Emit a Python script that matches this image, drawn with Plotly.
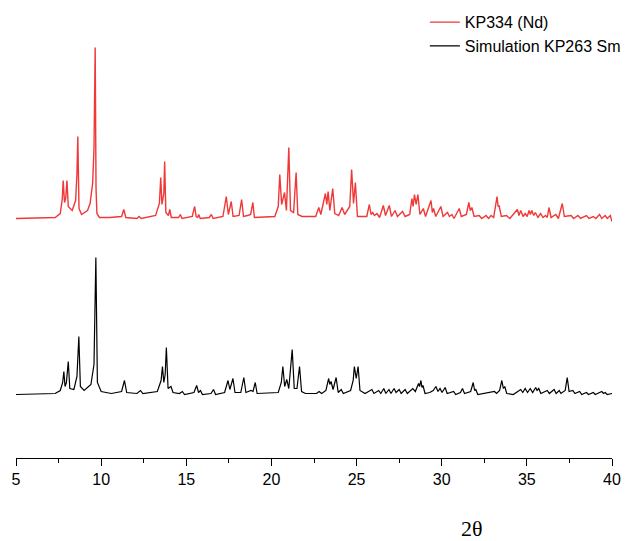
import plotly.graph_objects as go

# ---- Data (2theta in degrees, intensity in arbitrary units above each pattern's baseline) ----
RED_NAME = "KP334 (Nd)"
SIM_NAME = "Simulation KP263 Sm"

RED_2THETA = [
    5.0, 7.3, 7.6, 7.72, 7.77, 7.85, 7.92, 7.99, 8.07, 8.3, 8.5, 8.58, 8.63, 8.70, 8.85,
    9.2, 9.35, 9.5, 9.58, 9.65, 9.7, 9.75, 9.9, 10.5,
    11.2, 11.33, 11.45, 12.1, 12.23, 12.35,
    13.2, 13.42, 13.50, 13.57, 13.68, 13.73, 13.8, 13.95, 14.03, 14.12, 14.55, 14.65, 14.75,
    15.35, 15.49, 15.58, 15.67, 15.73, 15.82, 16.35, 16.47, 16.58,
    17.15, 17.35, 17.47, 17.64, 17.75, 18.1, 18.25, 18.36, 18.6, 18.78, 18.91, 19.0,
    20.2, 20.4, 20.49, 20.6, 20.77, 20.88, 21.02, 21.12, 21.3, 21.45, 21.55, 21.8,
    22.6, 22.78, 22.9, 23.17, 23.25, 23.33, 23.43, 23.6, 23.72, 23.95, 24.15, 24.3,
    24.6, 24.71, 24.82, 24.93, 25.05,
    25.6, 25.75, 25.85, 25.95, 26.05, 26.2, 26.35, 26.57, 26.7, 26.92, 27.05, 27.26, 27.4,
    27.7, 27.85, 28.12, 28.25, 28.32, 28.4, 28.5, 28.6, 28.72, 28.92, 29.05,
    29.37, 29.45, 29.52, 29.65, 29.95, 30.08, 30.34, 30.45, 30.6, 30.72,
    31.03, 31.15, 31.45, 31.59, 31.68, 31.77, 31.9, 32.2, 32.35, 32.6, 32.75, 32.9, 33.05,
    33.25, 33.31, 33.37, 33.5, 33.8, 34.0,
    34.44, 34.54, 34.64, 34.78, 34.9, 35.02, 35.13, 35.21, 35.29, 35.4, 35.5, 35.65,
    35.81, 35.95, 36.1, 36.2, 36.3, 36.42, 36.7, 36.85, 37.08, 37.2,
    37.6, 37.75, 38.0, 38.15, 38.5, 38.65, 38.9, 39.05, 39.27, 39.4, 39.6, 39.72, 39.9, 40.0,
]
RED_INT = [
    0, 1, 5, 20, 38, 16, 20, 38, 12, 8, 18, 45, 82, 10, 4,
    8, 15, 35, 70, 171, 30, 5, 1, 1,
    2, 9, 1, 0, 2, 0,
    3, 15, 41, 14, 25, 57, 6, 3, 9, 1, 1, 4, 0,
    2, 12, 2, 1, 4, 0, 1, 4, 0,
    2, 22, 4, 17, 2, 3, 19, 2, 3, 4, 16, 1,
    2, 12, 44, 14, 26, 8, 71, 8, 6, 46, 4, 2,
    2, 11, 4, 25, 14, 27, 8, 30, 5, 3, 11, 4,
    12, 49, 15, 36, 2,
    2, 14, 4, 6, 3, 5, 1, 13, 3, 13, 2, 8, 2,
    7, 2, 4, 20, 12, 24, 14, 24, 4, 10, 2,
    18, 6, 10, 2, 12, 2, 6, 2, 4, 0,
    10, 2, 4, 16, 8, 11, 2, 3, 0, 3, 0, 3, 1,
    22, 12, 13, 2, 3, 0,
    9, 3, 8, 2, 5, 2, 8, 4, 8, 3, 6, 1,
    5, 1, 3, 1, 11, 1, 4, 0, 15, 2,
    3, 0, 3, 0, 3, 0, 2, 0, 4, 0, 3, 0, 3, -3,
]

SIM_2THETA = [
    5.0, 7.3, 7.6, 7.74, 7.81, 7.88, 7.96, 8.07, 8.16, 8.4, 8.58, 8.69, 8.78, 9.0,
    9.4, 9.58, 9.69, 9.78, 10.0, 10.6,
    11.2, 11.37, 11.5, 12.1, 12.31, 12.45,
    13.3, 13.52, 13.6, 13.68, 13.76, 13.83, 13.93, 14.1, 14.22, 14.6, 14.77, 14.9,
    15.45, 15.61, 15.72, 15.83, 15.95, 16.45, 16.6, 16.72,
    17.25, 17.45, 17.56, 17.74, 17.86, 18.2, 18.38, 18.5, 18.8, 18.92, 19.05, 19.16,
    20.4, 20.58, 20.67, 20.78, 20.9, 21.02, 21.22, 21.34, 21.5, 21.65, 21.77, 22.0,
    22.65, 22.8, 22.95, 23.2, 23.36, 23.43, 23.5, 23.62, 23.8, 23.92, 24.1, 24.22,
    24.65, 24.8, 24.87, 24.98, 25.09, 25.2, 25.5,
    25.9, 26.02, 26.3, 26.42, 26.6, 26.72, 26.9, 27.02, 27.2, 27.32, 27.5, 27.62,
    27.85, 27.98, 28.3, 28.45, 28.64, 28.7, 28.78, 28.84, 28.9, 29.02,
    29.3, 29.5, 29.66, 29.78, 29.9, 30.02, 30.2, 30.32, 30.7, 30.82,
    31.1, 31.22, 31.34, 31.7, 31.85, 31.93, 32.0, 32.12, 32.5,
    33.1, 33.22, 33.4, 33.53, 33.62, 33.7, 33.82, 34.2,
    34.64, 34.76, 34.9, 35.04, 35.2, 35.34, 35.52, 35.6, 35.7, 35.82,
    36.2, 36.32, 36.6, 36.72, 36.9, 37.0, 37.25, 37.37, 37.48,
    37.7, 37.82, 38.1, 38.22, 38.5, 38.62, 38.9, 39.02, 39.4, 39.5, 39.6, 39.72, 40.0,
]
SIM_INT = [
    0, 1, 4, 12, 23, 8, 12, 33, 6, 5, 18, 58, 8, 4,
    10, 30, 137, 12, 3, 1,
    3, 14, 2, 1, 4, 1,
    3, 14, 28, 12, 20, 47, 6, 8, 2, 1, 3, 0,
    2, 9, 2, 4, 0, 1, 5, 0,
    2, 14, 5, 16, 2, 2, 17, 2, 4, 3, 12, 1,
    2, 12, 28, 8, 15, 6, 45, 6, 6, 28, 3, 1,
    1, 3, 1, 4, 16, 10, 13, 5, 17, 2, 5, 1,
    4, 14, 28, 16, 28, 4, 1,
    5, 1, 4, 1, 6, 1, 5, 1, 6, 2, 5, 1,
    5, 1, 6, 3, 11, 8, 14, 7, 9, 1,
    2, 4, 8, 3, 6, 2, 7, 1, 3, 0,
    2, 6, 1, 3, 12, 4, 5, 0, 1,
    3, 1, 4, 14, 6, 8, 1, 0,
    5, 2, 6, 2, 6, 2, 7, 4, 6, 1,
    4, 1, 5, 1, 4, 1, 4, 17, 3,
    4, 1, 3, 0, 2, 0, 2, 0, 3, 1, 2, 0, 1,
]

X_TICKS = [5, 10, 15, 20, 25, 30, 35, 40]
X_TITLE = "2θ"

# ---- Styling / layout ----
RED_OFFSET = 176  # vertical stacking offset of the measured pattern
RED_COLOR = "rgb(240,56,56)"

fig = go.Figure()
fig.add_trace(go.Scatter(
    x=RED_2THETA, y=[v + RED_OFFSET for v in RED_INT], mode="lines", name=RED_NAME,
    line=dict(color=RED_COLOR, width=1.4), hoverinfo="x+name",
))
fig.add_trace(go.Scatter(
    x=SIM_2THETA, y=SIM_INT, mode="lines", name=SIM_NAME,
    line=dict(color="black", width=1.2), hoverinfo="x+name",
))

fig.update_layout(
    width=627, height=541,
    margin=dict(l=16, r=15, t=30, b=83, autoexpand=False),
    paper_bgcolor="white", plot_bgcolor="white",
    font=dict(family="Liberation Sans, Arial, sans-serif", size=16, color="black"),
    showlegend=True,
    legend=dict(
        x=0.686, y=1.058, xanchor="left", yanchor="top",
        bgcolor="rgba(0,0,0,0)", font=dict(size=16), tracegroupgap=0,
    ),
    xaxis=dict(
        range=[5, 40], tickvals=X_TICKS, showline=True, linecolor="black", linewidth=1,
        ticks="outside", ticklen=7, tickwidth=1, tickcolor="black", automargin=False,
        minor=dict(dtick=2.5, ticks="outside", ticklen=4, tickwidth=1, tickcolor="black", showgrid=False),
        showgrid=False, zeroline=False, tickfont=dict(size=16),
    ),
    yaxis=dict(range=[-63.5, 364.5], visible=False, showgrid=False, zeroline=False,
               automargin=False),
    annotations=[dict(
        text=X_TITLE, x=0.765, y=-0.1636, xref="paper", yref="paper",
        showarrow=False, xanchor="center", yanchor="middle",
        font=dict(family="Liberation Serif, Times New Roman, serif", size=22, color="black"),
    )],
)

fig.write_html(
    "out.html",
    config={"displayModeBar": False},
    post_script="document.body.style.margin='0px';document.body.style.overflow='hidden';",
)
